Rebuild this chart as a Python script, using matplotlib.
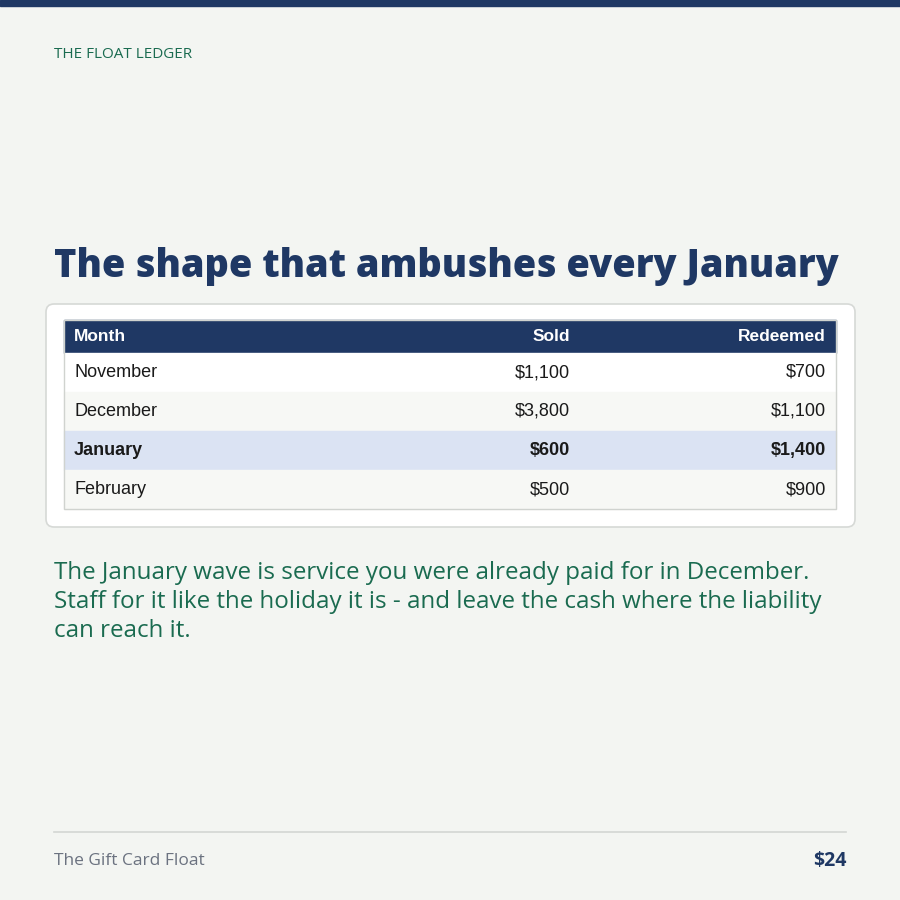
import matplotlib
matplotlib.use("Agg")
import matplotlib.pyplot as plt
from matplotlib.patches import Rectangle, FancyBboxPatch

# data
months = ["November", "December", "January", "February"]
sold = ["$1,100", "$3,800", "$600", "$500"]
redeemed = ["$700", "$1,100", "$1,400", "$900"]
headers = ["Month", "Sold", "Redeemed"]
highlight = "January"

NAVY = "#1f3864"
GREEN = "#1a6b50"
BG = "#f3f5f2"

W = H = 900
fig = plt.figure(figsize=(9, 9), dpi=100, facecolor=BG)
ax = fig.add_axes([0, 0, 1, 1])
ax.set_xlim(0, W)
ax.set_ylim(H, 0)
ax.axis("off")

HEAD = ["Open Sans", "DejaVu Sans"]
TBL = ["Liberation Sans", "DejaVu Sans"]

ax.add_patch(Rectangle((0, 0), W, 6, color=NAVY))
ax.text(54, 54, "THE FLOAT LEDGER", color=GREEN, fontsize=11, family=HEAD,
        va="center")
ax.text(54, 267, "The shape that ambushes every January", color=NAVY,
        fontsize=27.3, fontweight="heavy", family=HEAD, va="center")

# card
ax.add_patch(FancyBboxPatch((46, 304), 809, 223, boxstyle="round,pad=0,rounding_size=8",
                            facecolor="white", edgecolor="#d6d9d6", linewidth=1.2))

# table
x0, x1 = 64, 836
top, hh, rh = 320, 33, 39
ax.add_patch(Rectangle((x0, top), x1 - x0, hh, color=NAVY))
col_x = [74, 570, 826]
col_ha = ["left", "right", "right"]
for t, x, ha in zip(headers, col_x, col_ha):
    ax.text(x, top + hh / 2, t, color="white", fontsize=12.5, fontweight="bold",
            family=TBL, ha=ha, va="center")
for i, (m, s, r) in enumerate(zip(months, sold, redeemed)):
    y = top + hh + i * rh
    if m == highlight:
        fc = "#dbe3f3"
    else:
        fc = "white" if i % 2 == 0 else "#f7f8f5"
    ax.add_patch(Rectangle((x0, y), x1 - x0, rh, color=fc))
    fw = "bold" if m == highlight else "normal"
    for t, x, ha in zip([m, s, r], col_x, col_ha):
        ax.text(x, y + rh / 2, t, color="#1a1a1a", fontsize=13, fontweight=fw,
                family=TBL, ha=ha, va="center")
tb = top + hh + len(months) * rh
ax.add_patch(Rectangle((x0, top), x1 - x0, tb - top, fill=False,
                       edgecolor="#d0d3cf", linewidth=1))

body = ["The January wave is service you were already paid for in December.",
        "Staff for it like the holiday it is - and leave the cash where the liability",
        "can reach it."]
for i, line in enumerate(body):
    ax.text(54, 573 + i * 29, line, color=GREEN, fontsize=17.4, family=HEAD,
            va="center")

ax.plot([54, 846], [832, 832], color="#d3d6d3", linewidth=1.2)
ax.text(54, 861, "The Gift Card Float", color="#6b7280", fontsize=12.5,
        family=HEAD, va="center")
ax.text(846, 861, "$24", color=NAVY, fontsize=14, fontweight="bold",
        family=HEAD, va="center", ha="right")

fig.savefig("out.png", dpi=100, facecolor=BG)
